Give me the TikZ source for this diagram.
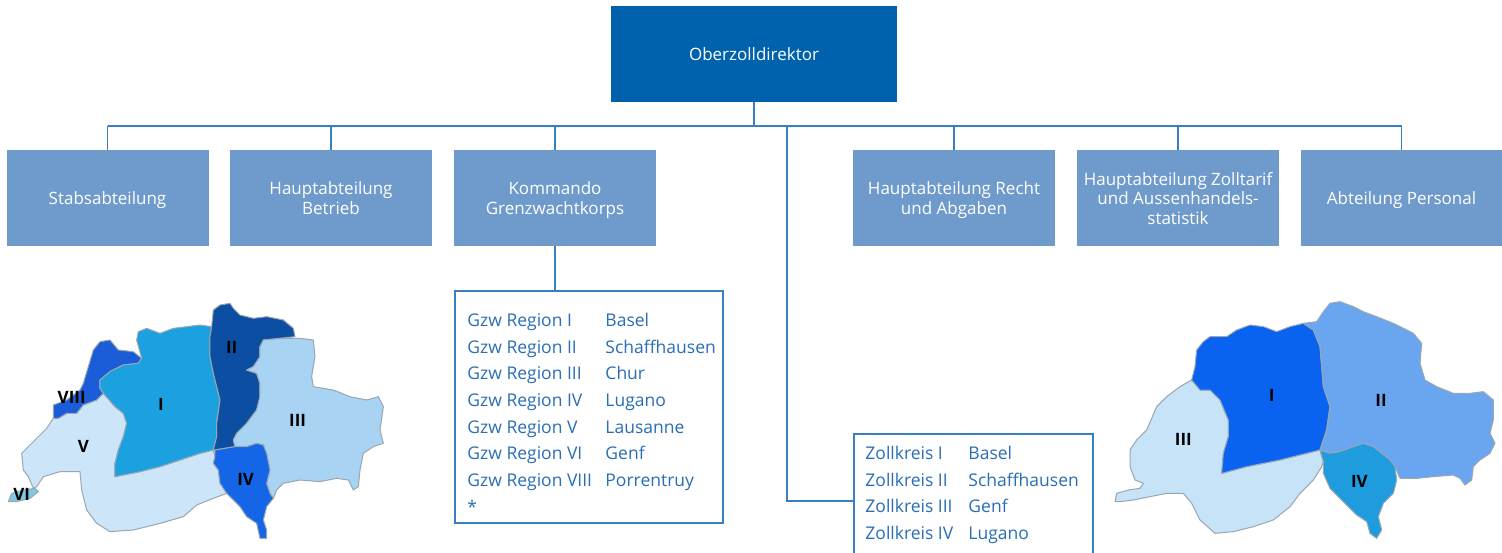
\documentclass[tikz,border=0pt]{standalone}
\usepackage{fontspec}
\setmainfont{Open Sans}
\usepackage{array}
\definecolor{topblue}{HTML}{0062AC}
\definecolor{boxblue}{HTML}{6F9BCC}
\definecolor{linkblue}{HTML}{3A80C0}
\definecolor{listblue}{HTML}{2A6EB5}
\definecolor{mapline}{HTML}{9AA6B2}
\definecolor{lV}{HTML}{CCE5F8}
\definecolor{lVI}{HTML}{7EC8E3}
\definecolor{lVIII}{HTML}{1B5DD8}
\definecolor{lI}{HTML}{1BA1DF}
\definecolor{lII}{HTML}{0B4EA2}
\definecolor{lIII}{HTML}{A8D3F2}
\definecolor{lIV}{HTML}{1466E6}
\definecolor{rIII}{HTML}{C6E3F8}
\definecolor{rI}{HTML}{0A62F0}
\definecolor{rII}{HTML}{6AA6F0}
\definecolor{rIV}{HTML}{1E9CDE}
\tikzset{
  chief/.style={rectangle, fill=topblue, text=white, minimum width=286pt, minimum height=96pt, inner sep=0pt, font=\fontsize{17}{20}\selectfont},
  dept/.style={rectangle, fill=boxblue, text=white, minimum width=202pt, minimum height=96pt, inner sep=0pt, align=center, text depth=0pt, font=\fontsize{17}{19.5}\selectfont},
  link/.style={draw=linkblue, line width=1.5pt},
  listbox/.style={rectangle, draw=linkblue, line width=1.5pt, inner sep=0pt},
  listtext/.style={inner sep=0pt, anchor=north west, text=listblue, font=\fontsize{17.5}{26.7}\selectfont},
  region/.style={draw=mapline, line width=1pt, line join=round},
  maplabel/.style={font=\fontsize{17}{17}\bfseries\selectfont, text=black, inner sep=0pt}
}
\begin{document}
\begin{tikzpicture}[x=1pt,y=-1pt]
\useasboundingbox (0,0) rectangle (1502,552);
\clip (0,0) rectangle (1502,552);
\fill[white] (0,0) rectangle (1502,552);

% ---------- left map ----------
\begin{scope}[yshift=-290pt, x=0.33333pt, y=-0.33333pt]
\filldraw[region, fill=lV] (175,385)--(200,370)--(230,370)--(250,345)--(290,330)--(310,310)--(345,350)--(370,370)--(380,400)--(370,440)--(355,480)--(345,520)--(345,560)--(420,545)--(480,530)--(540,510)--(600,490)--(640,480)--(645,500)--(640,520)--(655,540)--(660,580)--(680,610)--(640,625)--(590,645)--(550,680)--(480,700)--(400,720)--(330,725)--(290,700)--(260,660)--(245,600)--(240,545)--(180,545)--(130,560)--(110,590)--(100,595)--(85,560)--(70,540)--(65,490)--(100,455)--(140,415)--(160,385)--cycle;
\filldraw[region, fill=lVI] (25,635)--(35,610)--(70,600)--(105,595)--(115,605)--(90,625)--(50,635)--cycle;
\filldraw[region, fill=lVIII] (160,385)--(160,345)--(200,330)--(240,300)--(250,280)--(265,230)--(280,180)--(300,155)--(330,150)--(355,180)--(400,185)--(425,205)--(415,220)--(370,225)--(330,245)--(300,270)--(300,295)--(310,310)--(290,330)--(250,345)--(230,370)--(200,370)--(175,385)--cycle;
\filldraw[region, fill=lI] (415,125)--(440,115)--(480,130)--(520,115)--(560,110)--(600,105)--(635,110)--(630,140)--(630,200)--(640,250)--(660,330)--(650,400)--(650,440)--(640,480)--(600,490)--(540,510)--(480,530)--(420,545)--(345,560)--(345,520)--(355,480)--(370,440)--(380,400)--(370,370)--(345,350)--(310,310)--(300,295)--(300,270)--(330,245)--(370,225)--(415,220)--(425,205)--(410,150)--cycle;
\filldraw[region, fill=lII] (635,110)--(640,60)--(660,45)--(690,40)--(700,55)--(720,75)--(760,85)--(800,80)--(850,90)--(880,115)--(885,140)--(790,150)--(780,170)--(780,200)--(760,230)--(740,240)--(770,250)--(780,280)--(780,320)--(770,360)--(740,400)--(710,430)--(700,450)--(705,470)--(645,480)--(640,480)--(650,440)--(650,400)--(660,330)--(640,250)--(630,200)--(630,140)--cycle;
\filldraw[region, fill=lIII] (790,150)--(850,145)--(900,145)--(940,150)--(945,200)--(935,260)--(940,290)--(1000,300)--(1050,320)--(1100,330)--(1135,320)--(1150,350)--(1140,420)--(1150,460)--(1120,470)--(1090,490)--(1080,540)--(1075,590)--(1060,600)--(1045,570)--(1010,565)--(960,575)--(900,570)--(850,580)--(830,600)--(820,625)--(810,610)--(800,580)--(810,540)--(800,490)--(790,465)--(770,460)--(740,470)--(705,470)--(700,450)--(710,430)--(740,400)--(770,360)--(780,320)--(780,280)--(770,250)--(740,240)--(760,230)--(780,200)--(780,170)--cycle;
\filldraw[region, fill=lIV] (645,480)--(705,470)--(740,470)--(770,460)--(790,465)--(800,490)--(810,540)--(800,580)--(810,610)--(820,625)--(800,650)--(790,690)--(800,720)--(800,745)--(780,745)--(770,700)--(740,680)--(720,650)--(690,620)--(680,610)--(660,580)--(655,540)--(640,520)--(645,500)--cycle;
\node[maplabel] (lmVIII) at (215,322) {VIII};
\node[maplabel] (lmI) at (483,343) {I};
\node[maplabel] (lmII) at (695,172) {II};
\node[maplabel] (lmIII) at (893,390) {III};
\node[maplabel] (lmV) at (250,470) {V};
\node[maplabel] (lmIV) at (737,567) {IV};
\node[maplabel] (lmVI) at (65,612) {VI};
\end{scope}

% ---------- right map ----------
\begin{scope}[xshift=1100pt, yshift=-280pt, x=0.33333pt, y=-0.33333pt]
\filldraw[region, fill=rIII] (45,665)--(50,640)--(85,630)--(120,625)--(130,610)--(105,600)--(90,560)--(90,510)--(110,480)--(140,450)--(170,380)--(200,350)--(240,320)--(275,300)--(300,330)--(330,330)--(360,360)--(385,420)--(385,470)--(370,520)--(365,580)--(440,560)--(540,540)--(620,520)--(660,510)--(670,545)--(665,560)--(640,600)--(600,640)--(570,680)--(520,720)--(460,740)--(400,755)--(345,760)--(300,720)--(275,670)--(250,640)--(200,640)--(150,650)--(100,660)--(60,665)--cycle;
\filldraw[region, fill=rI] (275,300)--(285,260)--(290,210)--(310,185)--(330,170)--(380,170)--(410,150)--(450,135)--(490,140)--(530,155)--(570,140)--(610,130)--(640,150)--(660,200)--(665,260)--(670,320)--(690,380)--(680,450)--(660,510)--(620,520)--(540,540)--(440,560)--(365,580)--(370,520)--(385,470)--(385,420)--(360,360)--(330,330)--(300,330)--cycle;
\filldraw[region, fill=rII] (610,130)--(650,125)--(670,95)--(690,70)--(720,65)--(760,80)--(790,95)--(830,110)--(880,130)--(940,160)--(965,190)--(960,250)--(975,300)--(1010,320)--(1060,340)--(1110,340)--(1150,335)--(1180,360)--(1180,420)--(1170,460)--(1185,490)--(1170,520)--(1140,540)--(1120,560)--(1115,600)--(1095,615)--(1080,595)--(1060,585)--(1000,590)--(950,595)--(900,595)--(885,560)--(870,540)--(845,520)--(820,500)--(790,490)--(760,500)--(720,515)--(690,520)--(660,510)--(680,450)--(690,380)--(670,320)--(665,260)--(660,200)--(640,150)--cycle;
\filldraw[region, fill=rIV] (660,510)--(690,520)--(720,515)--(760,500)--(790,490)--(820,500)--(845,520)--(870,540)--(885,560)--(890,600)--(880,640)--(850,670)--(835,710)--(845,750)--(830,775)--(810,760)--(800,725)--(770,705)--(730,665)--(690,625)--(670,580)--(670,545)--cycle;
\node[maplabel] (rmI) at (515,345) {I};
\node[maplabel] (rmII) at (843,362) {II};
\node[maplabel] (rmIII) at (250,478) {III};
\node[maplabel] (rmIV) at (778,604) {IV};
\end{scope}

% ---------- org chart ----------
\node[chief] (ozd) at (754,54) {Oberzolldirektor};
\node[dept] (stab) at (107.5,198) {Stabsabteilung};
\node[dept] (betrieb) at (331,198) {Hauptabteilung\\Betrieb};
\node[dept] (gwk) at (555,198) {Kommando\\Grenzwachtkorps};
\node[dept] (recht) at (954,198) {Hauptabteilung Recht\\und Abgaben};
\node[dept] (tarif) at (1178,198) {Hauptabteilung Zolltarif\\und Aussenhandels-\\statistik};
\node[dept, minimum width=201pt] (personal) at (1401.5,198) {Abteilung Personal};

\coordinate (busL) at (107.5,126);
\coordinate (busR) at (1401.5,126);
\coordinate (zbus) at (787,126);

\draw[link] (busL) -- (busR);
\draw[link] (ozd.south) -- (ozd.south |- busL);
\foreach \n in {stab,betrieb,gwk,recht,tarif,personal}
  \draw[link] (\n.north) -- (\n.north |- busL);

% Grenzwachtkorps regions
\node[listbox, minimum width=268pt, minimum height=232pt] (gzw) at (589,407) {};
\draw[link] (gwk.south) -- (gwk.south |- gzw.north);
\node[listtext] (gzwlist) at ([xshift=13pt, yshift=-17.3pt]gzw.north west)
{\begin{tabular}{@{}p{138pt}@{}l@{}}
Gzw Region I & Basel\\
Gzw Region II & Schaffhausen\\
Gzw Region III & Chur\\
Gzw Region IV & Lugano\\
Gzw Region V & Lausanne\\
Gzw Region VI & Genf\\
Gzw Region VIII & Porrentruy\\
\relax{*} &
\end{tabular}};

% Zollkreise
\node[listbox, minimum width=239pt, minimum height=134pt] (zk) at (973.5,501) {};
\draw[link] (zbus) |- (zk.west);
\node[listtext] (zklist) at ([xshift=12pt, yshift=-7.3pt]zk.north west)
{\begin{tabular}{@{}p{103pt}@{}l@{}}
Zollkreis I & Basel\\
Zollkreis II & Schaffhausen\\
Zollkreis III & Genf\\
Zollkreis IV & Lugano
\end{tabular}};
\end{tikzpicture}
\end{document}
